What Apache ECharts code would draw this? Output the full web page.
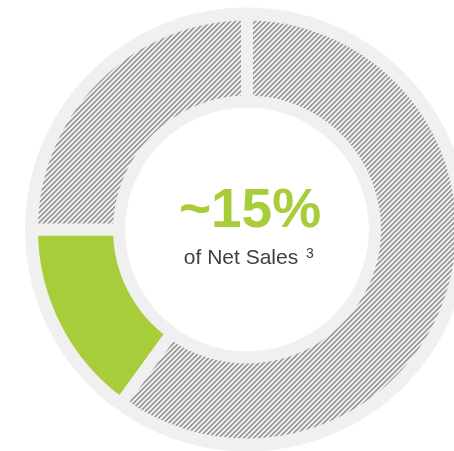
<!DOCTYPE html>
<html>
<head>
<meta charset="utf-8">
<script src="https://cdn.jsdelivr.net/npm/echarts@6/dist/echarts.min.js"></script>
<style>
  html, body { margin: 0; padding: 0; background: #fff; }
  #chart { width: 454px; height: 451px; }
</style>
</head>
<body>
<div id="chart"></div>
<script>
// share of net sales, clockwise from 12 o'clock
const categories = ['Other A', 'Share', 'Other B'];
const values = [60, 15, 25];
const bigLabel = '~15%';
const subLabel = 'of Net Sales';
const footnote = '3';

const GREEN = '#a8cd3a';
const RING = '#f0f0f0';

// diagonal hatch pattern "/", period 5px
function hatch() {
  const n = 5;
  const c = document.createElement('canvas');
  c.width = n; c.height = n;
  const ctx = c.getContext('2d');
  const shades = ['#9c9c9c', '#9c9c9c', '#c6c6c6', '#f2f2f2', '#f2f2f2'];
  for (let y = 0; y < n; y++) {
    for (let x = 0; x < n; x++) {
      ctx.fillStyle = shades[(x + y) % n];
      ctx.fillRect(x, y, 1, 1);
    }
  }
  return { image: c, repeat: 'repeat' };
}

const pattern = hatch();
const colors = [pattern, GREEN, pattern];

const chart = echarts.init(document.getElementById('chart'), null, { renderer: 'canvas' });
chart.setOption({
  animation: false,
  series: [
    {
      // light ring behind the segments
      type: 'pie',
      center: [247, 229.5],
      radius: [122, 222],
      silent: true,
      label: { show: false },
      labelLine: { show: false },
      itemStyle: { color: RING },
      data: [1]
    },
    {
      type: 'pie',
      center: [247, 229.5],
      radius: [128, 215],
      startAngle: 90,
      clockwise: true,
      silent: true,
      label: { show: false },
      labelLine: { show: false },
      itemStyle: { borderColor: RING, borderWidth: 12 },
      data: values.map((v, i) => ({
        name: categories[i],
        value: v,
        itemStyle: { color: colors[i] }
      }))
    }
  ],
  graphic: [
    {
      type: 'text',
      x: 250, y: 239,
      style: {
        text: bigLabel,
        fill: GREEN,
        font: 'bold 55px "Liberation Sans", Arial, sans-serif',
        align: 'center',
        verticalAlign: 'bottom'
      }
    },
    {
      type: 'text',
      x: 241, y: 269,
      style: {
        text: subLabel,
        fill: '#404040',
        font: '21px "Liberation Sans", Arial, sans-serif',
        align: 'center',
        verticalAlign: 'bottom'
      }
    },
    {
      type: 'text',
      x: 306, y: 247,
      style: {
        text: footnote,
        fill: '#404040',
        font: '14px "Liberation Sans", Arial, sans-serif',
        align: 'left',
        verticalAlign: 'top'
      }
    }
  ]
});
</script>
</body>
</html>
